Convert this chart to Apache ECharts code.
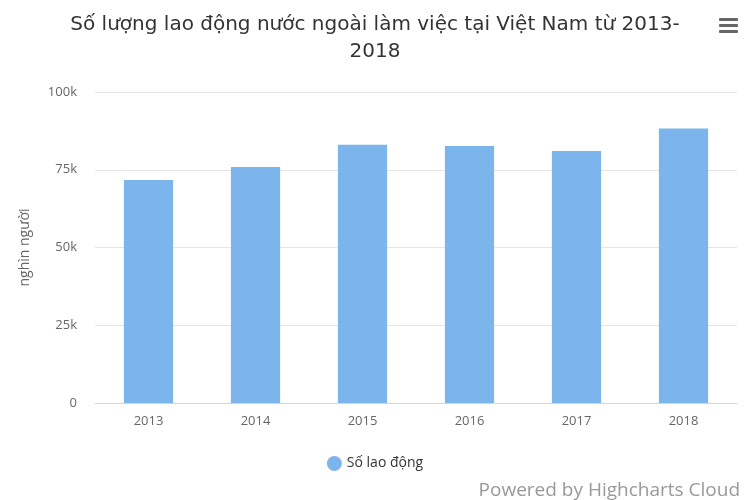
<!DOCTYPE html>
<html>
<head>
<meta charset="utf-8">
<script src="https://cdn.jsdelivr.net/npm/echarts@6/dist/echarts.min.js"></script>
<style>html,body{margin:0;padding:0;background:#fff}#main{width:750px;height:500px}</style>
</head>
<body>
<div id="main"></div>
<script>
var years = ['2013', '2014', '2015', '2016', '2017', '2018'];
var workers = [71700, 75900, 83000, 82600, 81000, 88300];
var yTicks = [0, 25000, 50000, 75000, 100000];

var myChart = echarts.init(document.getElementById('main'), null, { renderer: 'canvas' });

var option = {
    animation: false,
    title: {
        text: 'Số lượng lao động nước ngoài làm việc tại Việt Nam từ 2013-\n2018',
        left: 'center',
        top: 6,
        textStyle: { fontFamily: 'DejaVu Sans', fontSize: 20, fontWeight: 'normal', color: '#333', lineHeight: 27 }
    },
    legend: {
        bottom: 24,
        left: 'center',
        icon: 'circle',
        itemWidth: 15,
        itemHeight: 15,
        textStyle: { fontFamily: 'Open Sans', fontSize: 14, color: '#333' }
    },
    grid: { left: 95, right: 13, top: 92, bottom: 97 },
    xAxis: {
        type: 'category',
        data: years,
        axisLine: { lineStyle: { color: '#ccd6eb' } },
        axisTick: { show: false },
        axisLabel: { fontFamily: 'Open Sans', fontSize: 13, color: '#666', margin: 12 }
    },
    yAxis: {
        type: 'value',
        min: 0,
        max: 100000,
        interval: 25000,
        name: 'nghìn người',
        nameLocation: 'middle',
        nameGap: 63,
        nameTextStyle: { fontFamily: 'Open Sans', fontSize: 14, color: '#666' },
        splitLine: { lineStyle: { color: '#e6e6e6' } },
        axisLabel: {
            fontFamily: 'Open Sans', fontSize: 13, color: '#666', margin: 18,
            formatter: function (v) { return yTicks.indexOf(v) >= 0 && v > 0 ? (v / 1000) + 'k' : String(v); }
        }
    },
    series: [{
        name: 'Số lao động',
        type: 'bar',
        data: workers,
        barWidth: '46%',
        itemStyle: { color: '#7cb5ec' }
    }],
    graphic: [
        { type: 'text', right: 10, bottom: 0, style: { text: 'Powered by Highcharts Cloud', fontFamily: 'Open Sans', fontSize: 19, fill: '#999' } },
        { type: 'rect', shape: { x: 719, y: 18, width: 19, height: 3, r: 1 }, style: { fill: '#666' } },
        { type: 'rect', shape: { x: 719, y: 24, width: 19, height: 3, r: 1 }, style: { fill: '#666' } },
        { type: 'rect', shape: { x: 719, y: 30, width: 19, height: 3, r: 1 }, style: { fill: '#666' } }
    ]
};

myChart.setOption(option);
window.addEventListener('resize', myChart.resize);
</script>
</body>
</html>
